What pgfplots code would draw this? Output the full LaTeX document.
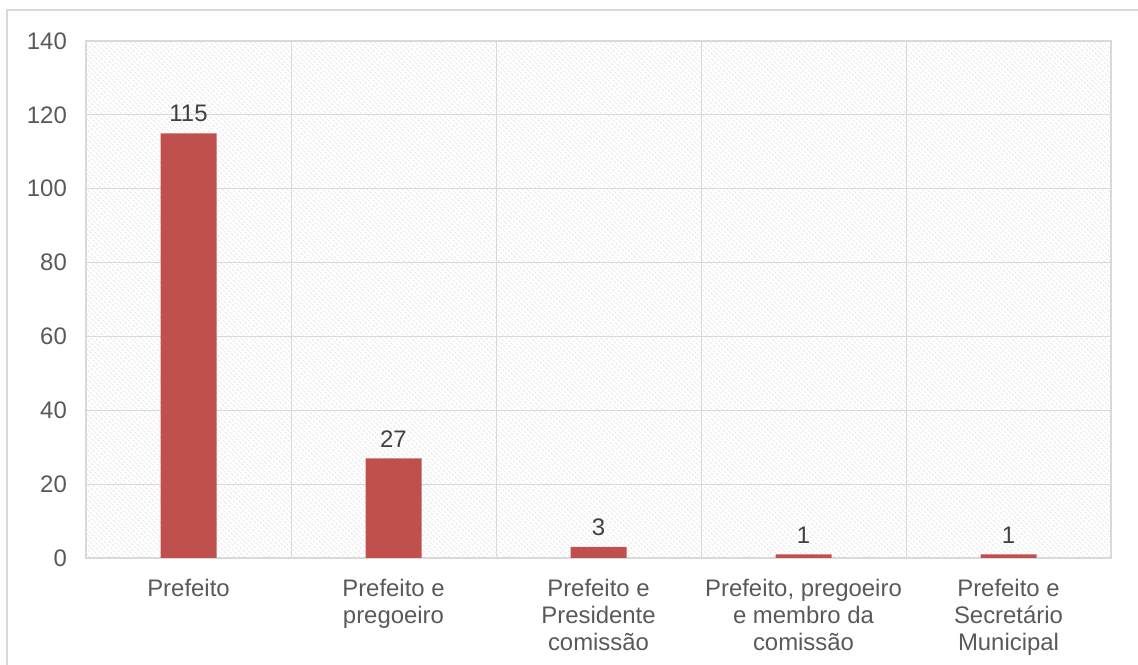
\documentclass[border=0pt]{standalone}
\usepackage{fontspec}
\setmainfont{Liberation Sans}
\usepackage{pgfplots}
\pgfplotsset{compat=1.18}
\usetikzlibrary{patterns.meta}
\definecolor{barred}{HTML}{C0504D}
\definecolor{gridc}{HTML}{D9D9D9}
\definecolor{tickc}{HTML}{595959}
\definecolor{labc}{HTML}{404040}
\begin{document}
\fontsize{24}{27}\selectfont
\begin{tikzpicture}[x=1bp,y=1bp]
\useasboundingbox (0,0) rectangle (1138,665);
\draw[gridc, line width=1.5bp] (7,0) -- (7,655) -- (1138,655);
\begin{axis}[
  at={(86bp,107bp)}, anchor=south west,
  width=1025bp, height=517bp, scale only axis,
  xmin=-0.5, xmax=4.5, ymin=0, ymax=140,
  ytick={0,20,...,140},
  xtick={0,1,2,3,4},
  xticklabels={Prefeito, {Prefeito e\\pregoeiro}, {Prefeito e\\Presidente\\comissão}, {Prefeito, pregoeiro\\e membro da\\comissão}, {Prefeito e\\Secretário\\Municipal}},
  minor xtick={0.5,1.5,2.5,3.5},
  xminorgrids=true, ymajorgrids=true,
  grid style={gridc, line width=1bp},
  minor grid style={gridc, line width=1bp},
  axis line style={gridc, line width=1.2bp},
  major tick length=0pt, minor tick length=0pt,
  tick label style={color=tickc, font=\fontsize{24}{27}\selectfont},
  /pgf/number format/assume math mode=true,
  yticklabel style={xshift=-11bp},
  xticklabel style={align=center, anchor=north, yshift=-13bp},
  axis background/.style={fill=white, postaction={pattern={Lines[angle=-45,distance=3.6bp,line width=0.6bp]}, pattern color=gridc}},
  ybar, bar width=56bp,
  nodes near coords,
  every node near coord/.append style={color=labc, font=\fontsize{24}{27}\selectfont, yshift=3bp},
  axis on top=false,
]
\addplot[fill=barred, draw=none] coordinates {(0,115) (1,27) (2,3) (3,1) (4,1)};
\end{axis}
\end{tikzpicture}
\end{document}
